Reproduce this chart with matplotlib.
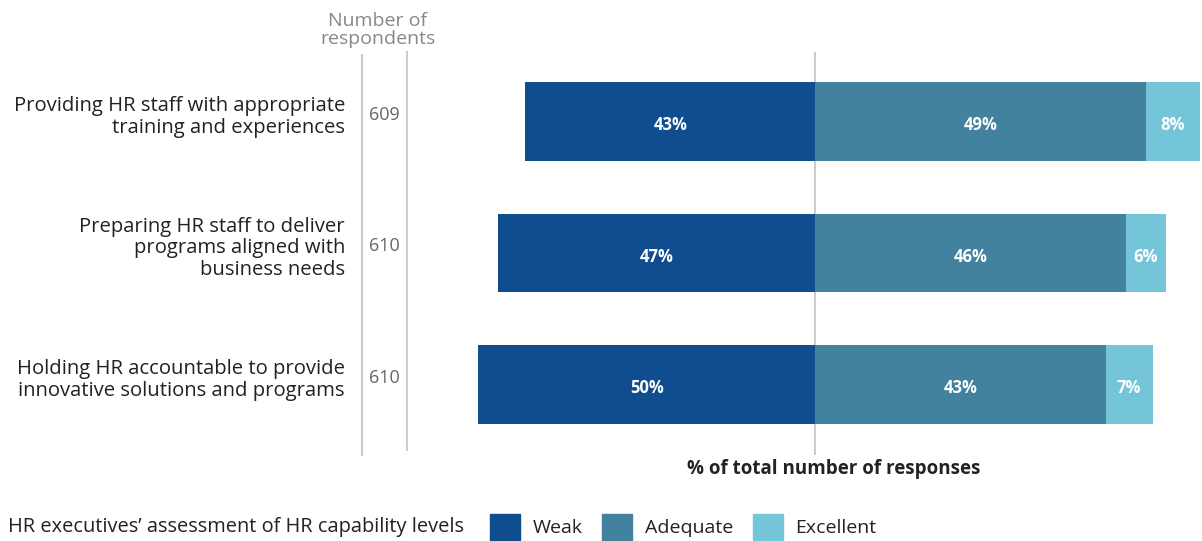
import numpy as np
import matplotlib.pyplot as plt
from matplotlib.patches import Patch
from matplotlib.lines import Line2D

plt.rcParams['font.family'] = ['Open Sans', 'DejaVu Sans']

# data
categories = ["Providing HR staff with appropriate\ntraining and experiences",
              "Preparing HR staff to deliver\nprograms aligned with\nbusiness needs",
              "Holding HR accountable to provide\ninnovative solutions and programs"]
respondents = [609, 610, 610]
weak = [43, 47, 50]
adequate = [49, 46, 43]
excellent = [8, 6, 7]
levels = ["Weak", "Adequate", "Excellent"]
colors = ["#0f4d8e", "#42829e", "#75c5d8"]

W, H = 1202, 541
fig = plt.figure(figsize=(W / 100, H / 100), dpi=100)

# bar axes, placed in pixels
top, bottom = 52, 455
ax = fig.add_axes([460 / W, 1 - bottom / H, (W - 460) / W, (bottom - top) / H])
y = np.arange(len(categories))
w = np.array(weak)
a = np.array(adequate)
e = np.array(excellent)
ax.barh(y, -w, height=0.6, color=colors[0])
ax.barh(y, a, height=0.6, color=colors[1])
ax.barh(y, e, left=a, height=0.6, color=colors[2])
for i in range(len(y)):
    for xc, val in [(-w[i] / 2, w[i]), (a[i] / 2, a[i]), (a[i] + e[i] / 2, e[i])]:
        ax.text(xc, y[i] + 0.03, f"{val}%", ha='center', va='center', color='white',
                fontsize=12, fontweight='bold')
ax.axvline(0, color='#cccccc', lw=1.5, zorder=0)
ax.set_xlim(-52.7, 57.3)
ax.set_ylim(2.536, -0.529)
ax.axis('off')

# row label text, in the same y scale
lab = fig.add_axes([0, 1 - bottom / H, 460 / W, (bottom - top) / H])
lab.set_xlim(0, 460)
lab.set_ylim(2.536, -0.529)
lab.axis('off')
for i in range(len(categories)):
    lab.text(345, y[i] - 0.035, categories[i], ha='right', va='center', fontsize=14.6,
             color='#222222', linespacing=1.12)
    lab.text(384, y[i] - 0.05, str(respondents[i]), ha='center', va='center',
             fontsize=13, color='#666666')

fig.add_artist(Line2D([362 / W, 362 / W], [1 - 55 / H, 1 - 455 / H], color='#cccccc', lw=1.5))
fig.add_artist(Line2D([407 / W, 407 / W], [1 - 52 / H, 1 - 450 / H], color='#cccccc', lw=1.5))
fig.text(378 / W, 1 - 30 / H, "Number of\nrespondents", ha='center', va='center',
         fontsize=14, color='#888888', linespacing=1.0)

fig.text(834 / W, 1 - 469 / H, "% of total number of responses", ha='center', va='center',
         fontsize=13.5, fontweight='bold', color='#222222')

fig.text(8 / W, 1 - 527 / H, "HR executives\u2019 assessment of HR capability levels",
         ha='left', va='center', fontsize=14.4, color='#222222')
handles = [Patch(color=c, label=l) for c, l in zip(colors, levels)]
fig.legend(handles=handles, loc='center left', bbox_to_anchor=(483 / W, 1 - 527 / H),
           ncol=3, frameon=False, fontsize=14, handlelength=1.55, handleheight=1.65,
           handletextpad=0.65, columnspacing=1.0, labelcolor='#222222',
           borderpad=0.0, borderaxespad=0.35)

fig.savefig("out.png", dpi=100)
